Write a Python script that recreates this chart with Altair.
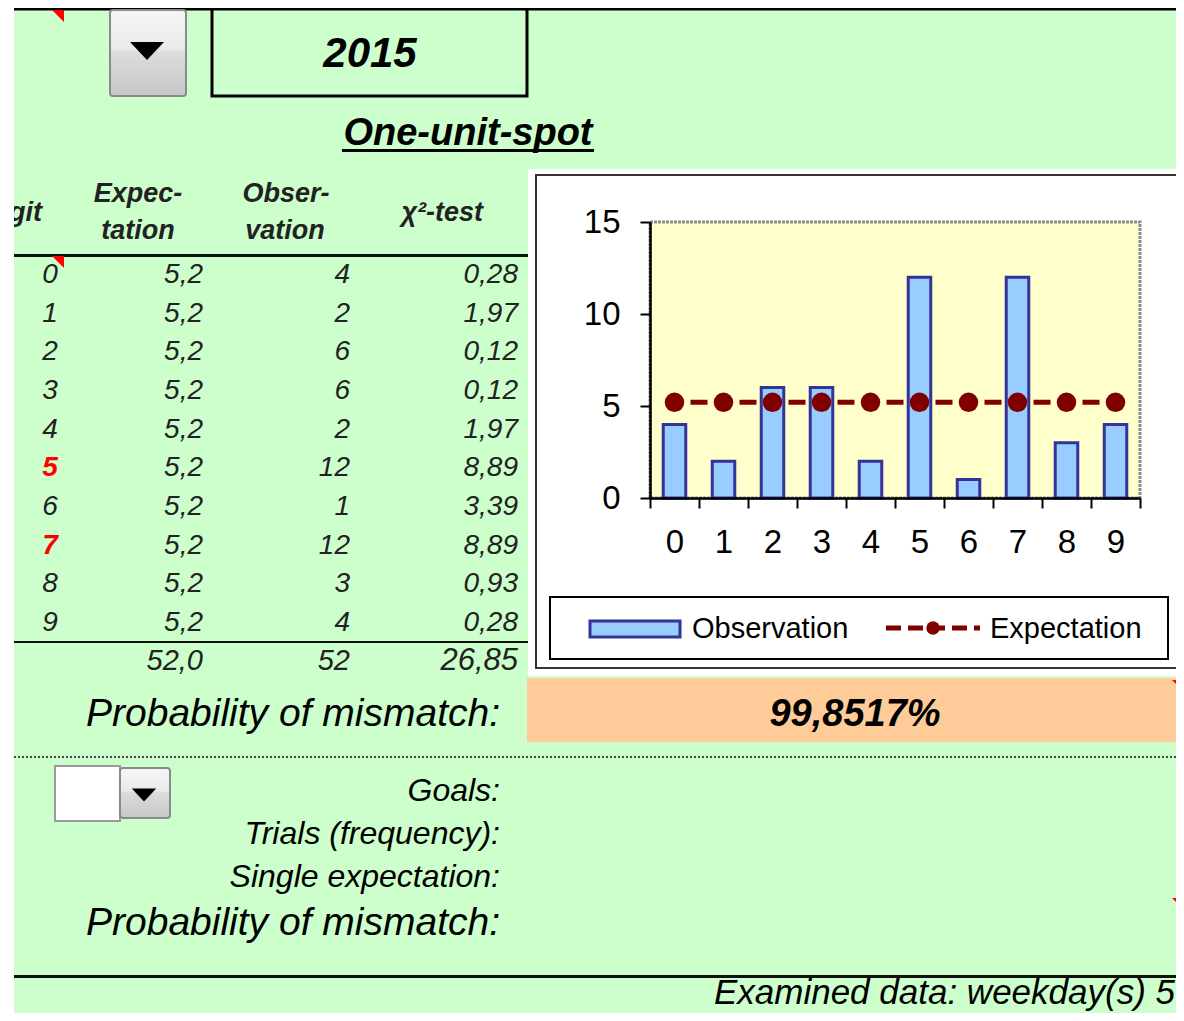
import altair as alt
import pandas as pd

# ---------------- data ----------------
digits = [0, 1, 2, 3, 4, 5, 6, 7, 8, 9]
expectation = [5.2, 5.2, 5.2, 5.2, 5.2, 5.2, 5.2, 5.2, 5.2, 5.2]
observation = [4, 2, 6, 6, 2, 12, 1, 12, 3, 4]
chi2 = [0.28, 1.97, 0.12, 0.12, 1.97, 8.89, 3.39, 8.89, 0.93, 0.28]
highlighted = [5, 7]
totals = ["52,0", "52", "26,85"]
year = "2015"
section_title = "One-unit-spot"
header_digit = "Digit"
header_expectation = ["Expec-", "tation"]
header_observation = ["Obser-", "vation"]
header_chi2 = "χ²-test"
probability_label = "Probability of mismatch:"
probability_value = "99,8517%"
lower_labels = ["Goals:", "Trials (frequency):", "Single expectation:"]
footer = "Examined data: weekday(s) 5"
y_ticks = [0, 5, 10, 15]
series = ["Observation", "Expectation"]

# ---------------- layout / style ----------------
W, H = 1168, 1005
OX, OY = 8, 8
def X(v):
    return v - OX
def Y(v):
    return v - OY

FONT = "Liberation Sans"
GREEN = "#CCFFCC"
YELLOW = "#FFFFCC"
ORANGE = "#FFCC99"
BLUE = "#99CCFF"
NAVY = "#333399"
DARKRED = "#800000"
TXT = "#222222"

one = pd.DataFrame({"k": [0]})

def rect(x1, y1, x2, y2, **kw):
    return alt.Chart(one).mark_rect(**kw).encode(
        x=alt.value(X(x1)), x2=alt.value(X(x2)), y=alt.value(Y(y1)), y2=alt.value(Y(y2)))

def hrule(x1, x2, y, **kw):
    return alt.Chart(one).mark_rule(**kw).encode(
        x=alt.value(X(x1)), x2=alt.value(X(x2)), y=alt.value(Y(y)))

def text(s, x, y, size, align="left", weight="normal", style="normal", color="#000000"):
    return alt.Chart(one).mark_text(
        text=s, font=FONT, fontSize=size, align=align, baseline="alphabetic",
        fontWeight=weight, fontStyle=style, color=color).encode(
        x=alt.value(X(x)), y=alt.value(Y(y)))

def symbol(shape, x, y, size, color):
    return alt.Chart(one).mark_point(
        shape=shape, size=size, filled=True, color=color, opacity=1, strokeWidth=0).encode(
        x=alt.value(X(x)), y=alt.value(Y(y)))

CORNER = "M -1 -1 L 1 -1 L 1 1 Z"
DOWN = "M -1 -0.53 L 1 -0.53 L 0 0.53 Z"

button_fill = alt.Gradient(
    gradient="linear", x1=0, x2=0, y1=0, y2=1,
    stops=[alt.GradientStop(offset=0, color="#f6f6f6"),
           alt.GradientStop(offset=0.45, color="#eaeaea"),
           alt.GradientStop(offset=0.5, color="#dcdcdc"),
           alt.GradientStop(offset=1, color="#c6c6c6")])

layers = []
# sheet background
layers.append(rect(14, 0, 1200, 1100, fill=GREEN))
layers.append(rect(14, 7, 1200, 10.5, fill="#000000"))
# top drop-down and year box
layers.append(rect(110, 10, 186, 96, fill=button_fill, stroke="#8a8a8a", strokeWidth=2, cornerRadius=3))
layers.append(symbol(DOWN, 147, 51, 1156, "#000000"))
layers.append(rect(212, 7, 527, 96, fill=GREEN, fillOpacity=0, stroke="#000000", strokeWidth=3))
layers.append(text(year, 370, 67, 42, align="center", weight="bold", style="italic"))
layers.append(symbol(CORNER, 58, 16, 144, "#FF0000"))
# section title
layers.append(text(section_title, 468, 145, 38, align="center", weight="bold", style="italic"))
layers.append(rect(342, 149, 594, 152, fill="#000000"))
# table header
layers.append(text(header_digit, 42, 221, 27, align="right", weight="bold", style="italic", color=TXT))
layers.append(text(header_expectation[0], 138, 202, 27, align="center", weight="bold", style="italic", color=TXT))
layers.append(text(header_expectation[1], 138, 239, 27, align="center", weight="bold", style="italic", color=TXT))
layers.append(text(header_observation[0], 286, 202, 27, align="center", weight="bold", style="italic", color=TXT))
layers.append(text(header_observation[1], 285, 239, 27, align="center", weight="bold", style="italic", color=TXT))
layers.append(text(header_chi2, 483, 221, 27, align="right", weight="bold", style="italic", color=TXT))
layers.append(rect(14, 254, 528, 257, fill="#111111"))
layers.append(rect(14, 641, 528, 643, fill="#111111"))

# table body, driven by the data arrays
def dec(v, n):
    return f"{v:.{n}f}".replace(".", ",")

tab = pd.DataFrame({
    "row": list(range(len(digits))),
    "digit": digits,
    "digit_s": [str(d) for d in digits],
    "exp": [dec(v, 1) for v in expectation],
    "obs": [str(v) for v in observation],
    "chi": [dec(v, 2) for v in chi2],
})
row_y = alt.Y("row:Q", scale=alt.Scale(domain=[0, 9], range=[Y(283), Y(631)], nice=False, zero=False), axis=None)

def col(field, x, align, color=TXT, weight="normal", flt=None):
    c = alt.Chart(tab)
    if flt is not None:
        c = c.transform_filter(flt)
    return c.mark_text(font=FONT, fontSize=28, fontStyle="italic", fontWeight=weight,
                       align=align, baseline="alphabetic", color=color).encode(
        x=alt.value(X(x)), y=row_y, text=alt.Text(f"{field}:N"))

hl = "[" + ",".join(str(h) for h in highlighted) + "]"
layers.append(col("digit_s", 50, "center", flt=f"indexof({hl}, datum.digit) < 0"))
layers.append(col("digit_s", 50, "center", color="#FF0000", weight="bold", flt=f"indexof({hl}, datum.digit) >= 0"))
layers.append(col("exp", 203, "right"))
layers.append(col("obs", 350, "right"))
layers.append(col("chi", 518, "right"))
layers.append(symbol(CORNER, 58, 262, 144, "#FF0000"))
# totals
layers.append(text(totals[0], 203, 670, 29, align="right", style="italic", color=TXT))
layers.append(text(totals[1], 350, 670, 29, align="right", style="italic", color=TXT))
layers.append(text(totals[2], 518, 670, 31, align="right", style="italic", color=TXT))

# chart area
layers.append(rect(528, 169, 1200, 676, fill="#FFFFFF"))
layers.append(rect(536, 175, 1177, 668, fill="#FFFFFF", stroke="#333333", strokeWidth=2))
layers.append(rect(650, 222, 1140, 498, fill=YELLOW, stroke="#8c8c8c", strokeWidth=3, strokeDash=[3, 1]))

bar_df = pd.DataFrame({
    "digit": [str(d) for d in digits],
    "Observation": observation,
    "Expectation": expectation,
})
x_axis = alt.Axis(orient="bottom", offset=Y(498) - H, tickBand="extent", labelAngle=0,
                  labelFont=FONT, labelFontSize=33, labelColor="#000000", labelPadding=18,
                  tickSize=10, tickWidth=2, tickColor="#000000",
                  domainColor="#000000", domainWidth=2.5, grid=False, title=None, zindex=1)
y_axis = alt.Axis(orient="left", offset=-X(650), values=y_ticks,
                  labelFont=FONT, labelFontSize=33, labelColor="#000000", labelPadding=20,
                  tickSize=10, tickWidth=2, tickColor="#000000",
                  domainColor="#000000", domainWidth=2.5, grid=False, title=None, zindex=1)
x_enc = alt.X("digit:N", sort=None,
              scale=alt.Scale(type="band", domain=[str(d) for d in digits],
                              range=[X(650), X(1140)], paddingInner=0, paddingOuter=0),
              axis=x_axis)
y_scale = alt.Scale(domain=[0, 15], range=[Y(498), Y(222)], nice=False, zero=True)

bars = alt.Chart(bar_df).mark_bar(
    width=alt.RelativeBandSize(0.46), fill=BLUE, stroke=NAVY, strokeWidth=3, opacity=1).encode(
    x=x_enc, y=alt.Y("Observation:Q", scale=y_scale, axis=y_axis), y2=alt.datum(0))
line = alt.Chart(bar_df).mark_line(
    color=DARKRED, strokeWidth=5, strokeDash=[17, 7.5], strokeDashOffset=8.5).encode(
    x=x_enc, y=alt.Y("Expectation:Q", scale=y_scale, axis=y_axis))
pts = alt.Chart(bar_df).mark_point(
    filled=True, shape="circle", size=380, color=DARKRED, opacity=1, strokeWidth=0).encode(
    x=x_enc, y=alt.Y("Expectation:Q", scale=y_scale, axis=y_axis))
layers.append(alt.layer(bars, line, pts))

# legend
layers.append(rect(550, 597, 1168, 659, fill="#FFFFFF", stroke="#000000", strokeWidth=2))
layers.append(rect(590, 621, 680, 637, fill=BLUE, stroke=NAVY, strokeWidth=3))
layers.append(text(series[0], 692, 638, 29))
layers.append(hrule(886, 980, 628, color=DARKRED, strokeWidth=5, strokeDash=[15, 7]))
layers.append(symbol("circle", 933, 628, 180, DARKRED))
layers.append(text(series[1], 990, 638, 29))

# probability row
layers.append(rect(527, 678, 1200, 742, fill=ORANGE))
layers.append(text(probability_value, 855, 726, 38, align="center", weight="bold", style="italic"))
layers.append(symbol(CORNER, 1178, 686, 144, "#FF0000"))
layers.append(text(probability_label, 500, 726, 39, align="right", style="italic"))
layers.append(hrule(14, 1200, 757, color="#444444", strokeWidth=2, strokeDash=[2, 2]))

# lower block
layers.append(rect(55, 766, 120, 821, fill="#FFFFFF", stroke="#9a9a9a", strokeWidth=2))
layers.append(rect(120, 768, 170, 818, fill=button_fill, stroke="#8a8a8a", strokeWidth=2, cornerRadius=3))
layers.append(symbol(DOWN, 144, 795, 600, "#000000"))
for lab, yy in zip(lower_labels, [801, 844, 887]):
    layers.append(text(lab, 500, yy, 32, align="right", style="italic"))
layers.append(text(probability_label, 500, 935, 39, align="right", style="italic"))
layers.append(symbol(CORNER, 1178, 904, 144, "#FF0000"))
layers.append(rect(14, 975, 1200, 978, fill="#111111"))
layers.append(text(footer, 1175, 1004, 35, align="right", style="italic"))

# white page strip on the left (clips the "Digit" header like the sheet does)
layers.append(rect(0, 0, 14, 1100, fill="#FFFFFF"))

chart = alt.layer(*layers).resolve_scale(x="independent", y="independent").properties(
    width=W, height=H, background="#FFFFFF", padding=0,
    autosize=alt.AutoSizeParams(type="none"),
).configure_view(strokeWidth=0)

chart.save("out.html", embed_options={"renderer": "svg", "actions": False})
